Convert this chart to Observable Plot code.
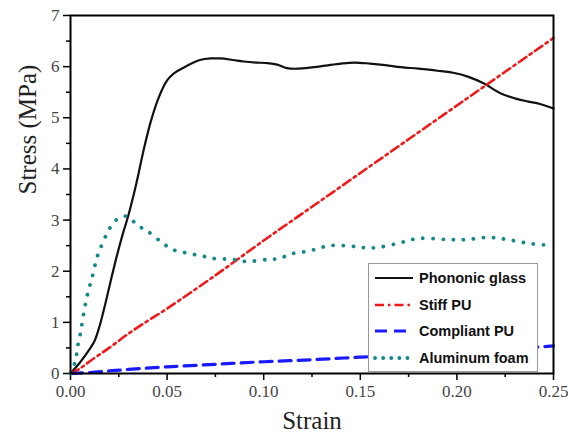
<!DOCTYPE html>
<html>
<head>
<meta charset="utf-8">
<script src="https://cdn.jsdelivr.net/npm/d3@7"></script>
<script src="https://cdn.jsdelivr.net/npm/@observablehq/plot@0.6"></script>
<style>
  body { margin: 0; background: #fff; }
  #wrap { position: relative; width: 568px; height: 436px; }
  #legend { position: absolute; left: 368px; top: 263px; width: 168px; height: 107px;
    border: 1.5px solid #999; background: #fff; font-family: "Liberation Sans", Arial, sans-serif;
    font-weight: bold; font-size: 14.5px; color: #111; }
  .row { position: absolute; left: 4px; height: 20px; display: flex; align-items: center; }
  .row svg { margin-right: 4px; }
</style>
</head>
<body>
<div id="wrap"></div>
<script>
const seriesNames = ["Phononic glass", "Stiff PU", "Compliant PU", "Aluminum foam"];
const seriesColors = ["#111111", "#f01818", "#1a1aff", "#15898a"];

const glassX = [0, 0.005, 0.010, 0.0125, 0.015, 0.018, 0.021, 0.024, 0.027, 0.030, 0.034, 0.0378, 0.0415, 0.0456, 0.050, 0.0535, 0.0585, 0.0637, 0.067, 0.0725, 0.0776, 0.084, 0.0896, 0.096, 0.102, 0.107, 0.112, 0.118, 0.124, 0.132, 0.140, 0.147, 0.155, 0.163, 0.171, 0.180, 0.190, 0.198, 0.206, 0.214, 0.2225, 0.230, 0.2365, 0.243, 0.25];
const glassY = [0, 0.22, 0.48, 0.64, 0.92, 1.36, 1.84, 2.30, 2.72, 3.10, 3.70, 4.36, 4.92, 5.39, 5.73, 5.87, 5.98, 6.08, 6.13, 6.16, 6.16, 6.13, 6.10, 6.08, 6.07, 6.04, 5.97, 5.96, 5.98, 6.02, 6.06, 6.08, 6.06, 6.03, 5.99, 5.96, 5.92, 5.88, 5.80, 5.67, 5.48, 5.38, 5.32, 5.27, 5.18];

const stiffX = [0, 0.005, 0.01, 0.02, 0.03, 0.04, 0.05, 0.075, 0.10, 0.125, 0.15, 0.175, 0.20, 0.225, 0.25];
const stiffY = [0, 0.10, 0.24, 0.50, 0.78, 1.03, 1.27, 1.92, 2.60, 3.26, 3.92, 4.58, 5.24, 5.90, 6.56];

const compliantX = [0, 0.01, 0.02, 0.03, 0.05, 0.075, 0.10, 0.125, 0.15, 0.175, 0.20, 0.225, 0.25];
const compliantY = [0, 0.02, 0.05, 0.08, 0.13, 0.18, 0.23, 0.27, 0.32, 0.37, 0.42, 0.47, 0.54];

const foamX = [0, 0.0026, 0.0036, 0.0052, 0.0067, 0.0088, 0.011, 0.014, 0.017, 0.0197, 0.0233, 0.0265, 0.0295, 0.035, 0.040, 0.048, 0.053, 0.0585, 0.0637, 0.069, 0.074, 0.084, 0.0906, 0.102, 0.1087, 0.113, 0.1227, 0.128, 0.1336, 0.1413, 0.1475, 0.152, 0.158, 0.169, 0.180, 0.195, 0.2055, 0.216, 0.226, 0.238, 0.25];
const foamY = [0, 0.25, 0.51, 0.80, 1.15, 1.55, 1.85, 2.30, 2.58, 2.80, 2.99, 3.06, 3.07, 2.89, 2.78, 2.54, 2.42, 2.37, 2.33, 2.29, 2.25, 2.23, 2.19, 2.23, 2.25, 2.33, 2.39, 2.44, 2.50, 2.50, 2.48, 2.46, 2.46, 2.54, 2.64, 2.62, 2.62, 2.66, 2.62, 2.54, 2.50];

const xTicks = [0, 0.05, 0.10, 0.15, 0.20, 0.25];
const xMinor = [0.025, 0.075, 0.125, 0.175, 0.225];
const yTicks = [0, 1, 2, 3, 4, 5, 6, 7];
const yMinor = [0.5, 1.5, 2.5, 3.5, 4.5, 5.5, 6.5];

const toRows = (xs, ys) => xs.map((x, i) => ({x, y: ys[i]}));
const dashes = ["none", "9 4 2.5 4", "12 7", "0.1 10"];
const widths = [2.2, 2.6, 3.2, 3.8];

const marks = [
  Plot.axisX({ticks: xTicks, tickFormat: d => d.toFixed(2), tickSize: 7, tickPadding: 4, fontSize: 17, label: null, color: "#444", stroke: "#000", strokeWidth: 1.5}),
  Plot.axisX({ticks: xMinor, tickFormat: () => "", tickSize: 4, label: null, stroke: "#000", strokeWidth: 1.5}),
  Plot.axisY({ticks: yTicks, tickFormat: d => String(d), tickSize: 7, tickPadding: 4, fontSize: 17, label: null, color: "#444", stroke: "#000", strokeWidth: 1.5}),
  Plot.axisY({ticks: yMinor, tickFormat: () => "", tickSize: 4, label: null, stroke: "#000", strokeWidth: 1.5}),
  Plot.line(toRows(glassX, glassY), {x: "x", y: "y", stroke: seriesColors[0], strokeWidth: widths[0], curve: "catmull-rom"}),
  Plot.line(toRows(stiffX, stiffY), {x: "x", y: "y", stroke: seriesColors[1], strokeWidth: widths[1], strokeDasharray: dashes[1], curve: "catmull-rom"}),
  Plot.line(toRows(compliantX, compliantY), {x: "x", y: "y", stroke: seriesColors[2], strokeWidth: widths[2], strokeDasharray: dashes[2], curve: "catmull-rom"}),
  Plot.line(toRows(foamX, foamY), {x: "x", y: "y", stroke: seriesColors[3], strokeWidth: widths[3], strokeDasharray: dashes[3], strokeLinecap: "round", curve: "catmull-rom"}),
  Plot.frame({stroke: "#000", strokeWidth: 2}),
  Plot.text(["Strain"], {frameAnchor: "bottom", dy: 47, fontSize: 25, fill: "#222", lineAnchor: "middle"}),
  Plot.text(["Stress (MPa)"], {frameAnchor: "left", dx: -43, rotate: -90, fontSize: 25, fill: "#222", lineAnchor: "middle"})
];

const chart = Plot.plot({
  width: 568, height: 436,
  marginLeft: 70, marginRight: 15, marginTop: 15, marginBottom: 63,
  x: {domain: [0, 0.25]},
  y: {domain: [0, 7]},
  style: {fontFamily: "'Liberation Serif', 'Times New Roman', serif", background: "#fff"},
  marks
});

const wrap = document.getElementById("wrap");
wrap.appendChild(chart);

const legend = document.createElement("div");
legend.id = "legend";
seriesNames.forEach((name, i) => {
  const row = document.createElement("div");
  row.className = "row";
  row.style.top = (4 + i * 26.7) + "px";
  const dash = dashes[i] === "none" ? "" : `stroke-dasharray="${dashes[i] === "0.1 10" ? "0.1 8" : dashes[i]}"`;
  row.innerHTML = `<svg width="42" height="10"><line x1="2" x2="40" y1="5" y2="5" stroke="${seriesColors[i]}" stroke-width="${widths[i]}" ${dash} stroke-linecap="${i === 3 ? "round" : "butt"}"/></svg><span>${name}</span>`;
  legend.appendChild(row);
});
wrap.appendChild(legend);
</script>
</body>
</html>
